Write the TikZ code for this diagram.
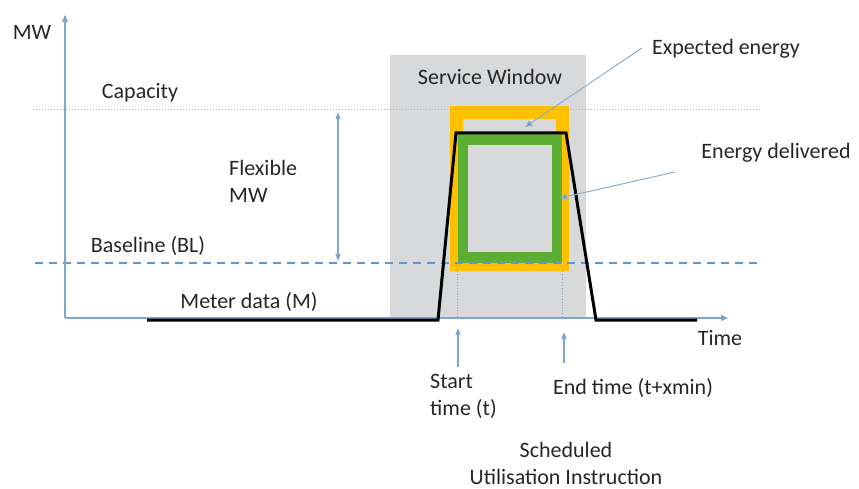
\documentclass[tikz,border=0pt]{standalone}
\usepackage{fontspec}
\setmainfont{Carlito}
\usetikzlibrary{arrows.meta}
\definecolor{axisblue}{HTML}{7FA6CF}
\definecolor{leadblue}{HTML}{8EAECB}
\definecolor{tipblue}{HTML}{5B9BD5}
\definecolor{capgray}{HTML}{9FB3C8}
\definecolor{basedash}{HTML}{5B9BD5}
\definecolor{wingray}{HTML}{D8D9DB}
\definecolor{exporange}{HTML}{FFC000}
\definecolor{delgreen}{HTML}{5DAE35}
\definecolor{inktext}{HTML}{262626}
\begin{document}
\begin{tikzpicture}[x=1pt,y=-1pt,
  lbl/.style={font=\fontsize{22}{27}\selectfont, text=inktext, inner sep=0pt},
  axisline/.style={draw=axisblue, line width=1.2pt, -{Triangle[length=7pt,width=6pt]}},
  leader/.style={draw=leadblue, line width=1pt, -{Triangle[length=7pt,width=6pt,fill=tipblue]}},
  marker/.style={draw=axisblue, line width=1.2pt, -{Triangle[length=7pt,width=5pt]}},
  guide/.style={draw=axisblue, line width=0.8pt, dotted}]
\useasboundingbox (0,0) rectangle (859,489);

% service window
\fill[wingray] (390,55) rectangle (586,318);

% energy frames
\draw[exporange, line width=13pt] (456.5,112.5) rectangle (562.5,264.5);
\draw[delgreen, line width=10.5pt] (463,139.5) rectangle (557,257.5);

% reference levels
\draw[capgray, line width=1pt, dotted] (33,110) -- (760,110);
\draw[basedash, line width=1.5pt, dash pattern=on 8pt off 6pt] (35,263) -- (760,263);

% guide lines at start and end times
\draw[guide] (457,271) -- (457,318);
\draw[guide] (562,271) -- (562,318);

% axes
\coordinate (origin) at (65,318);
\coordinate (ytop) at (65,15);
\coordinate (xend) at (728,318);
\draw[axisline] (origin) -- (ytop);
\draw[axisline] (origin) -- (xend);

% meter data profile
\draw[black, line width=3pt, line join=miter]
  (147,320) -- (438,320) -- (456,133) -- (566,133) -- (596,320) -- (697,320);

% flexible MW span
\coordinate (flextop) at (338,112);
\coordinate (flexbot) at (338,261);
\draw[axisblue, line width=1.2pt, {Triangle[length=7pt,width=5pt]}-{Triangle[length=7pt,width=5pt]}] (flexbot) -- (flextop);

% labels
\node[lbl] (mw) at (32,32) {MW};
\node[lbl] (cap) at (140,93) {Capacity};
\node[lbl, align=left, anchor=west] (flex) at (229,181) {Flexible\\MW};
\node[lbl] (bl) at (148,246) {Baseline (BL)};
\node[lbl] (meter) at (249,302) {Meter data (M)};
\node[lbl] (sw) at (490,77) {Service Window};
\node[lbl] (exp) at (726,49) {Expected energy};
\node[lbl] (del) at (776,153) {Energy delivered};
\node[lbl] (time) at (720,338) {Time};
\node[lbl, align=left, anchor=west] (start) at (430,396) {Start\\time (t)};
\node[lbl] (endt) at (633,388) {End time (t+xmin)};
\node[lbl, align=center] (sui) at (566,463) {Scheduled\\Utilisation Instruction};

% leader arrows
\coordinate (exptip) at (525,127);
\coordinate (delfrom) at (675,172);
\coordinate (deltip) at (560,198);
\draw[leader] ([xshift=-10pt,yshift=1pt]exp.west) -- (exptip);
\draw[leader] (delfrom) -- (deltip);

% time markers
\coordinate (sfoot) at (458,367);
\coordinate (stip) at (458,328);
\coordinate (efoot) at (564,363);
\coordinate (etip) at (564,332);
\draw[marker] (sfoot) -- (stip);
\draw[marker] (efoot) -- (etip);
\end{tikzpicture}
\end{document}
